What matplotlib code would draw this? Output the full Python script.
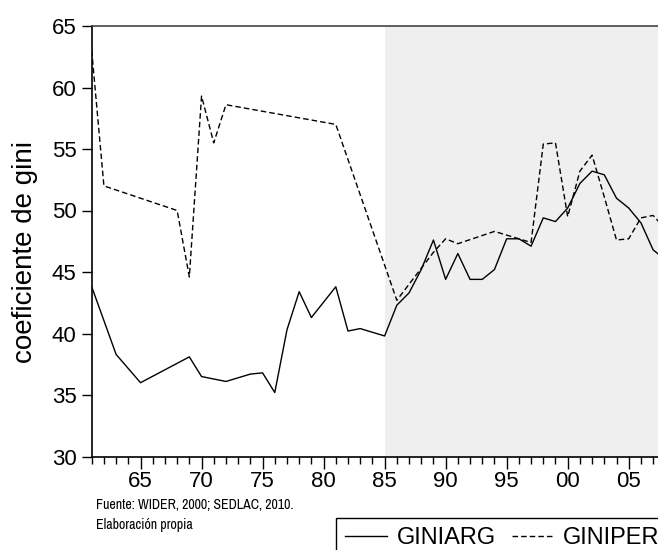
import matplotlib.pyplot as plt
from matplotlib import font_manager
from matplotlib.ticker import MultipleLocator, FuncFormatter

plt.rcParams['font.family'] = ['Liberation Sans', 'DejaVu Sans']

# Coeficiente de Gini, Argentina
anios_arg = [1961, 1963, 1965, 1969, 1970, 1972, 1974, 1975, 1976, 1977, 1978, 1979,
             1981, 1982, 1983, 1985, 1986, 1987, 1988, 1989, 1990, 1991, 1992, 1993,
             1994, 1995, 1996, 1997, 1998, 1999, 2000, 2001, 2002, 2003, 2004, 2005,
             2006, 2007, 2008]
giniarg = [43.8, 38.3, 36.0, 38.1, 36.5, 36.1, 36.7, 36.8, 35.2, 40.3, 43.4, 41.3,
           43.8, 40.2, 40.4, 39.8, 42.3, 43.3, 45.2, 47.6, 44.4, 46.5, 44.4, 44.4,
           45.2, 47.7, 47.7, 47.1, 49.4, 49.1, 50.2, 52.2, 53.2, 52.9, 51.0, 50.2,
           49.0, 46.8, 46.0]

# Coeficiente de Gini, Peru
anios_per = [1961, 1962, 1968, 1969, 1970, 1971, 1972, 1981, 1986, 1987, 1988, 1989,
             1990, 1991, 1994, 1995, 1996, 1997, 1998, 1999, 2000, 2001, 2002, 2003,
             2004, 2005, 2006, 2007, 2008]
giniper = [63.0, 52.0, 50.0, 44.6, 59.3, 55.5, 58.6, 57.0, 42.7, 44.0, 45.3, 46.6,
           47.7, 47.3, 48.3, 48.0, 47.7, 47.4, 55.4, 55.5, 49.5, 53.2, 54.5, 51.1,
           47.6, 47.7, 49.4, 49.6, 48.5]

periodo_sombreado = (1985, 2008)

# fuente estrecha para la nota, si hay alguna instalada
nota_font = {'family': 'Liberation Sans'}
for f in font_manager.fontManager.ttflist:
    if 'Narrow' in f.name:
        nota_font = {'family': f.name}
        break
else:
    for f in font_manager.fontManager.ttflist:
        if f.stretch in ('condensed', 'semi-condensed', 'extra-condensed') or 'Condensed' in f.fname:
            nota_font = {'fname': f.fname}
            break

fig = plt.figure(figsize=(6.58, 5.5), dpi=100)
ax = fig.add_axes([91.7 / 658, 1 - 456.5 / 550, 1 - 91.7 / 658, 430.5 / 550])

ax.axvspan(*periodo_sombreado, color='#efefef', lw=0, zorder=0)
l1, = ax.plot(anios_arg, giniarg, color='black', lw=1.0, label='GINIARG')
l2, = ax.plot(anios_per, giniper, color='black', lw=1.0, ls=(0, (4, 2.2)),
              label='GINIPER')

ax.set_xlim(1961, 2007.4)
ax.set_ylim(30, 65)
ax.yaxis.set_major_locator(MultipleLocator(5))
ax.xaxis.set_major_locator(MultipleLocator(5))
ax.xaxis.set_minor_locator(MultipleLocator(1))
ax.xaxis.set_major_formatter(FuncFormatter(lambda v, p: '%02d' % (int(round(v)) % 100)))

ax.spines['right'].set_visible(False)
ax.spines['top'].set_color('#444444')
for s in ['left', 'bottom', 'top']:
    ax.spines[s].set_linewidth(1.2)

ax.tick_params(axis='y', direction='out', length=7, width=1, labelsize=16, pad=4)
ax.tick_params(axis='x', which='major', direction='out', length=8.5, width=1,
               labelsize=16, pad=2)
ax.tick_params(axis='x', which='minor', direction='out', length=5, width=1)

ax.set_ylabel('coeficiente de gini', fontsize=20)
ax.yaxis.set_label_coords(-0.095, 0.476)

if 'fname' in nota_font:
    fp = font_manager.FontProperties(fname=nota_font['fname'], size=10)
else:
    fp = font_manager.FontProperties(family=nota_font['family'], size=10)
fig.text(96 / 658, 1 - 505 / 550, 'Fuente: WIDER, 2000; SEDLAC, 2010.',
         fontproperties=fp, va='center', ha='left')
fig.text(96 / 658, 1 - 525 / 550, 'Elaboración propia',
         fontproperties=fp, va='center', ha='left')

leg = fig.legend(handles=[l1, l2], loc='upper left',
                 bbox_to_anchor=(336 / 658, 1 - 518 / 550), borderaxespad=0,
                 ncol=2, fontsize=17, frameon=True, fancybox=False,
                 edgecolor='black', framealpha=1, handlelength=1.75,
                 handletextpad=0.42, columnspacing=0.68, borderpad=0.4)
leg.get_frame().set_linewidth(1.0)

fig.savefig('out.png', dpi=100)
